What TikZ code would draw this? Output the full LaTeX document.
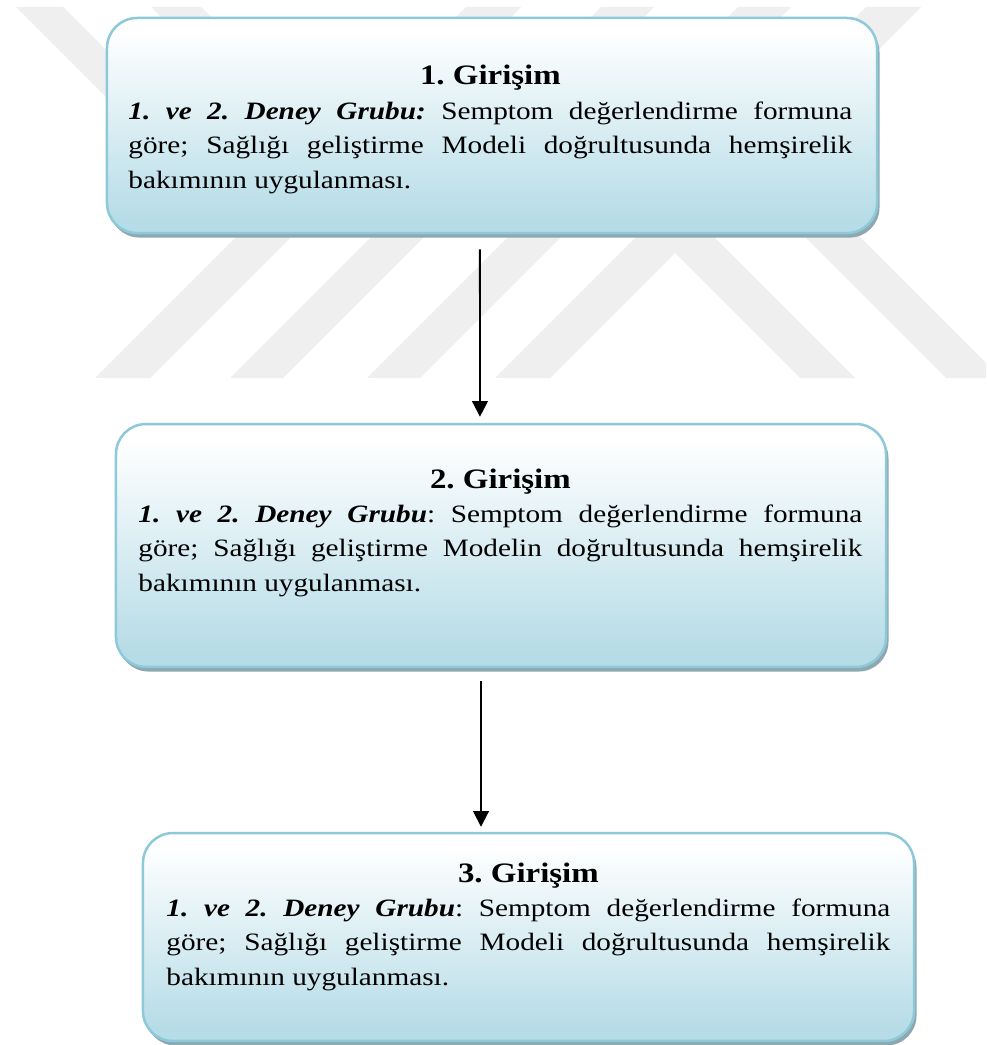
\documentclass[tikz,border=0pt]{standalone}
\usepackage{fontspec}
\setmainfont[FakeStretch=1.17]{Liberation Serif}
\usetikzlibrary{arrows.meta,shadows}
\definecolor{boxtop}{HTML}{FFFFFF}
\definecolor{boxbot}{HTML}{B6DCE7}
\definecolor{boxline}{HTML}{8DC9D9}
\definecolor{boxshadow}{HTML}{8EA8B0}
\definecolor{wmark}{HTML}{EFEFEF}
\pgfdeclareverticalshading{boxshade}{100bp}{color(0bp)=(boxbot); color(28bp)=(boxbot); color(72bp)=(boxtop); color(100bp)=(boxtop)}
\hyphenpenalty=10000
\exhyphenpenalty=10000
\frenchspacing

\begin{document}
\begin{tikzpicture}[x=0.48pt,y=-0.48pt,
    box/.style={draw=boxline,line width=1.2pt,rounded corners=14.4pt,shading=boxshade,
      drop shadow={shadow xshift=1.2pt,shadow yshift=-2.2pt,fill=boxshadow,opacity=1},
      minimum width=369.6pt},
    txt/.style={anchor=base west,text width=347.5pt,inner sep=0pt,align=justify,
      font=\fontsize{12}{16.5}\selectfont},
    flow/.style={line width=0.9pt,-{Triangle[length=7.5pt,width=7.5pt]}}]
    \useasboundingbox (0,0) rectangle (986,1045);
    \fill[wmark] (16,7) -- (63,7) -- (183,127) -- (136,127) -- cycle;
    \fill[wmark] (151,7) -- (201,7) -- (231,37) -- (181,37) -- cycle;
    \fill[wmark] (95,378) -- (150,378) -- (521,7) -- (466,7) -- cycle;
    \fill[wmark] (230,378) -- (283,378) -- (654,7) -- (601,7) -- cycle;
    \fill[wmark] (367,378) -- (420,378) -- (791,7) -- (738,7) -- cycle;
    \fill[wmark] (495,378) -- (550,378) -- (921,7) -- (866,7) -- cycle;
    \fill[wmark] (800,378) -- (855,378) -- (678,201) -- (623,201) -- cycle;
    \fill[wmark] (946,378) -- (986,378) -- (986,363) -- (815,192) -- (760,192) -- cycle;

    \node[box,minimum height=103.2pt] (g1) at (492,125.5) {};
    \node[box,minimum height=116.6pt] (g2) at (501,545.5) {};
    \node[box,minimum width=370.1pt,minimum height=99.8pt] (g3) at (528.5,937) {};

    \node[txt] (t1) at (128,85) {{\centering\fontsize{13.5}{16.5}\selectfont\bfseries 1. Girişim\par}\textbf{\textit{1. ve 2. Deney Grubu:}} Semptom değerlendirme formuna\linebreak göre; Sağlığı geliştirme Modeli doğrultusunda hemşirelik\linebreak bakımının uygulanması.};
    \node[txt] (t2) at (138,488) {{\centering\fontsize{13.5}{16.5}\selectfont\bfseries 2. Girişim\par}\textbf{\textit{1. ve 2. Deney Grubu}}: Semptom değerlendirme formuna\linebreak göre; Sağlığı geliştirme Modelin doğrultusunda hemşirelik\linebreak bakımının uygulanması.};
    \node[txt] (t3) at (166,882) {{\centering\fontsize{13.5}{16.5}\selectfont\bfseries 3. Girişim\par}\textbf{\textit{1. ve 2. Deney Grubu}}: Semptom değerlendirme formuna\linebreak göre; Sağlığı geliştirme Modeli doğrultusunda hemşirelik\linebreak bakımının uygulanması.};

    \draw[flow,shorten <=7.2pt,shorten >=2.9pt] ([xshift=-5.8pt]g1.south) -- ([xshift=-10.1pt]g2.north);
    \draw[flow,shorten <=6.2pt,shorten >=2.4pt] ([xshift=-9.6pt]g2.south) -- ([xshift=-22.8pt]g3.north);
\end{tikzpicture}
\end{document}
